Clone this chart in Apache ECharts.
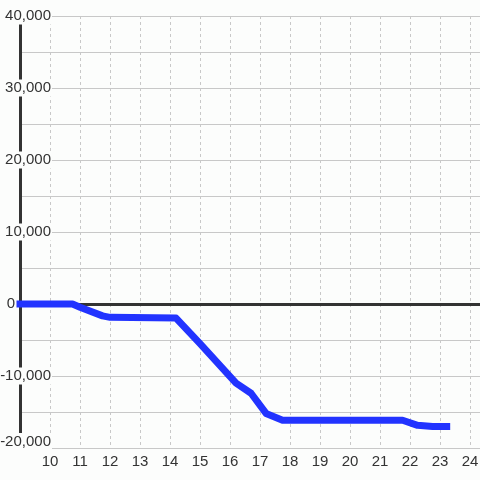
<!DOCTYPE html>
<html>
<head>
<meta charset="utf-8">
<script src="https://cdn.jsdelivr.net/npm/echarts@6/dist/echarts.min.js"></script>
<style>
  html, body { margin: 0; padding: 0; background: #fcfdfc; }
  #chart { width: 480px; height: 480px; }
</style>
</head>
<body>
<div id="chart"></div>
<script>
// hour of day and running value
const hours = [9, 10.75, 11, 11.75, 12, 14.2, 15, 16.2, 16.7, 17.2, 17.75, 21.75, 22.25, 22.75, 23.22];
const values = [0, 0, -450, -1650, -1850, -1950, -5500, -11000, -12400, -15200, -16150, -16150, -16850, -17000, -17000];
const xLabels = [10, 11, 12, 13, 14, 15, 16, 17, 18, 19, 20, 21, 22, 23, 24];
const yLabels = [-20000, -10000, 0, 10000, 20000, 30000, 40000];

const bg = '#fcfdfc';
const data = hours.map((h, i) => [h, values[i]]);

const chart = echarts.init(document.getElementById('chart'));

chart.setOption({
  backgroundColor: bg,
  animation: false,
  grid: { left: 20, right: 0, top: 16, bottom: 32, containLabel: false, outerBoundsMode: 'none' },
  xAxis: {
    type: 'value',
    min: 9,
    max: 24.33,
    interval: 1,
    axisLine: { show: false },
    axisTick: { show: false },
    axisLabel: {
      color: '#333',
      fontSize: 15,
      fontFamily: 'Liberation Sans, Arial, sans-serif',
      margin: 6,
      formatter: function (v) {
        return xLabels.indexOf(v) >= 0 ? String(v) : '';
      }
    },
    splitLine: {
      show: true,
      lineStyle: { color: '#c8c8c8', type: [3, 3], width: 1 }
    }
  },
  yAxis: {
    type: 'value',
    min: -20000,
    max: 40000,
    interval: 5000,
    axisLine: { show: true, lineStyle: { color: '#333', width: 3 } },
    axisTick: { show: false },
    axisLabel: {
      inside: true,
      align: 'right',
      margin: 32,
      color: '#333',
      fontSize: 15,
      fontFamily: 'Liberation Sans, Arial, sans-serif',
      formatter: function (v) {
        if (yLabels.indexOf(v) < 0) return '';
        if (v === 0) return '{a|0}{g|}';
        if (v === -20000) return '{b|' + v.toLocaleString('en-US') + '}{s|}';
        return '{a|' + v.toLocaleString('en-US') + '}';
      },
      rich: {
        a: { backgroundColor: bg, padding: [1, 1, 1, 1], fontSize: 15, color: '#333' },
        b: { backgroundColor: bg, padding: [1, 1, 1, 1], fontSize: 15, color: '#333', verticalAlign: 'top' },
        g: { width: 36 },
        s: { height: 30, lineHeight: 30 }
      }
    },
    splitLine: {
      show: true,
      lineStyle: { color: '#c8c8c8', width: 1 }
    }
  },
  series: [
    {
      type: 'line',
      data: data,
      showSymbol: false,
      clip: false,
      z: 5,
      lineStyle: { color: '#2233ff', width: 7, cap: 'square', join: 'round' },
      markLine: {
        silent: true,
        symbol: 'none',
        z: 1,
        label: { show: false },
        lineStyle: { color: '#333', width: 3, type: 'solid' },
        data: [{ yAxis: 0 }]
      }
    }
  ]
});
</script>
</body>
</html>
